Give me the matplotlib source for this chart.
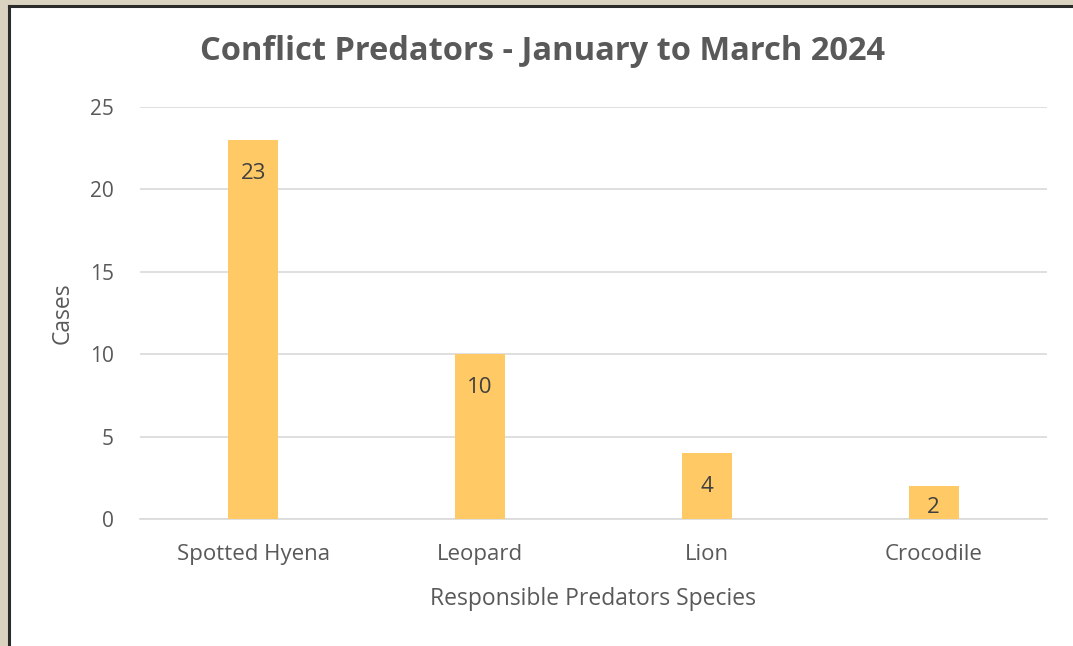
import matplotlib.pyplot as plt
from matplotlib.patches import Rectangle
from matplotlib.lines import Line2D

plt.rcParams["font.family"] = ["Open Sans", "DejaVu Sans"]

species = ["Spotted Hyena", "Leopard", "Lion", "Crocodile"]
cases = [23, 10, 4, 2]

BAR = "#FFC965"
TEXT = "#595959"
GRID = "#D9D9D9"

fig = plt.figure(figsize=(10.73, 6.46), dpi=100, facecolor="#D9D3BF")

# white panel with dark border on left and top
fig.patches.append(Rectangle((9 / 1073, 0), 1, 1 - 6 / 646, transform=fig.transFigure,
                             facecolor="white", edgecolor="none", zorder=-2))
fig.lines.append(Line2D([8.5 / 1073, 8.5 / 1073], [0, 1 - 5.5 / 646], transform=fig.transFigure,
                        color="#2b2b2b", linewidth=2.2, zorder=-1))
fig.lines.append(Line2D([8.5 / 1073, 1], [1 - 5.5 / 646, 1 - 5.5 / 646], transform=fig.transFigure,
                        color="#2b2b2b", linewidth=2.2, zorder=-1))

ax = fig.add_axes([140 / 1073, 1 - 519 / 646, 907 / 1073, 412 / 646])
ax.set_facecolor("none")

x = range(len(species))
bars = ax.bar(x, cases, width=0.22, color=BAR, zorder=3)
for b, v in zip(bars, cases):
    xc = b.get_x() + b.get_width() / 2
    if v >= 3:
        # label just inside the top of the bar
        ax.annotate(str(v), (xc, v), xytext=(0, -24), textcoords="offset points",
                    ha="center", va="center", fontsize=16, color="#404040", zorder=4)
    else:
        # short bar: label sits near the base
        ax.annotate(str(v), (xc, 0), xytext=(0, 8.5), textcoords="offset points",
                    ha="center", va="center", fontsize=16, color="#404040", zorder=4)

ax.set_xlim(-0.5, len(species) - 0.5)
ax.set_ylim(0, 25)
ax.set_yticks([0, 5, 10, 15, 20, 25])
ax.set_xticks(list(x))
ax.set_xticklabels(species)
ax.tick_params(axis="both", length=0, labelsize=15, labelcolor=TEXT)
ax.tick_params(axis="x", labelsize=16, pad=18)
ax.tick_params(axis="y", pad=19)
ax.grid(axis="y", color=GRID, linewidth=1.2, zorder=0)
for s in ["top", "right", "left"]:
    ax.spines[s].set_visible(False)
ax.spines["bottom"].set_color(GRID)
ax.spines["bottom"].set_linewidth(1.2)

ax.set_ylabel("Cases", fontsize=16.5, color=TEXT, labelpad=10.5)
ax.set_xlabel("Responsible Predators Species", fontsize=16.5, color=TEXT, labelpad=16)

fig.text(543 / 1073, 1 - 52 / 646, "Conflict Predators - January to March 2024",
         ha="center", va="center", fontsize=23.5, fontweight="bold", color=TEXT)

fig.savefig("out.png", dpi=100, facecolor=fig.get_facecolor())
